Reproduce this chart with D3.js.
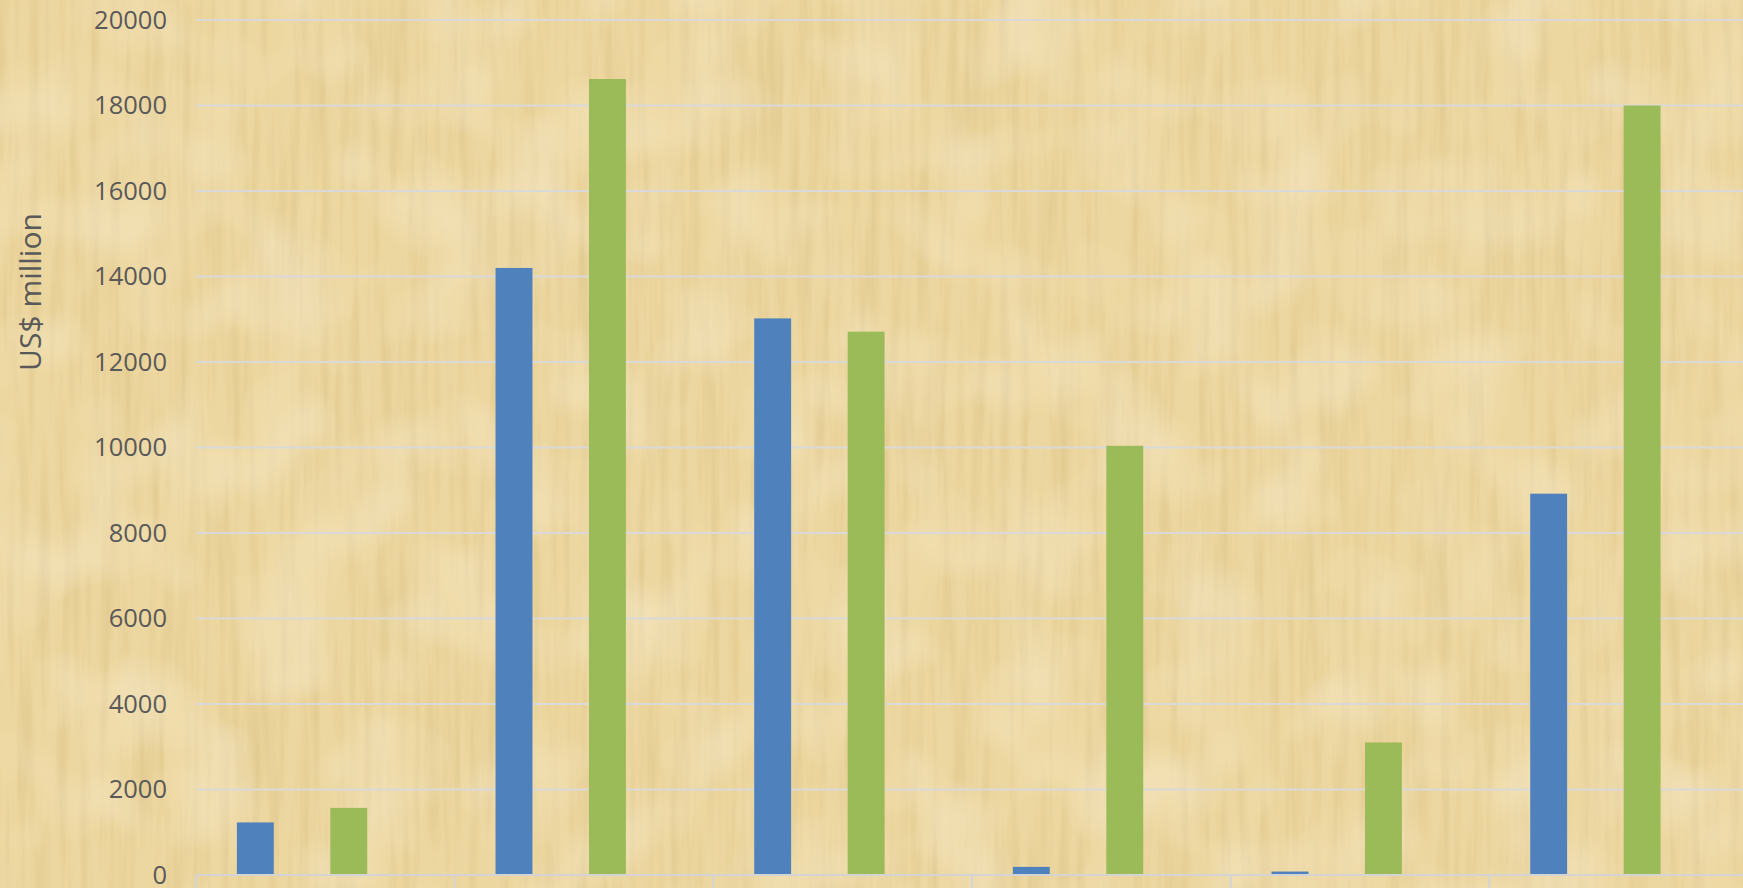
<!DOCTYPE html>
<html>
<head>
<meta charset="utf-8">
<script src="https://cdn.jsdelivr.net/npm/d3@7"></script>
<style>
    body { margin: 0; overflow: hidden; background: #ecd59d; }
    .tick text { font-family: "Open Sans", sans-serif; fill: #595959; }
</style>
</head>
<body>
<div id="chart"></div>
<script>
var categories = ["1", "2", "3", "4", "5", "6"];
var seriesNames = ["Series1", "Series2"];
var series1 = [1230, 14200, 13020, 190, 80, 8920];
var series2 = [1570, 18620, 12710, 10040, 3100, 18000];
var yTicks = [0, 2000, 4000, 6000, 8000, 10000, 12000, 14000, 16000, 18000, 20000];
var seriesColors = ["#4f81bd", "#9bbb59"];

function init() {
    var w = 1743;
    var h = 888;
    var left = 196;
    var right = 1748;
    var top = 20;
    var bottom = 875;

    var svg = d3.select("#chart")
                .append("svg")
                .attr("width", w)
                .attr("height", h);

    //papyrus looking background
    var defs = svg.append("defs");
    var f = defs.append("filter")
                .attr("id", "papyrus")
                .attr("x", 0).attr("y", 0)
                .attr("width", "100%").attr("height", "100%");
    f.append("feTurbulence")
        .attr("type", "fractalNoise")
        .attr("baseFrequency", "0.1 0.006")
        .attr("numOctaves", 3)
        .attr("seed", 4)
        .attr("result", "vert");
    f.append("feColorMatrix")
        .attr("in", "vert")
        .attr("type", "matrix")
        .attr("values", "0 0 0 0 0.66  0 0 0 0 0.5  0 0 0 0 0.2  0.9 0 0 0 -0.36")
        .attr("result", "vertDark");
    f.append("feTurbulence")
        .attr("type", "fractalNoise")
        .attr("baseFrequency", "0.012 0.012")
        .attr("numOctaves", 2)
        .attr("seed", 9)
        .attr("result", "blocks");
    f.append("feColorMatrix")
        .attr("in", "blocks")
        .attr("type", "matrix")
        .attr("values", "0 0 0 0 1  0 0 0 0 0.95  0 0 0 0 0.82  0.7 0 0 0 -0.3")
        .attr("result", "blockLight");
    f.append("feMerge")
        .selectAll("feMergeNode")
        .data(["vertDark", "blockLight"])
        .enter()
        .append("feMergeNode")
        .attr("in", function(d) { return d; });

    svg.append("rect")
        .attr("width", w)
        .attr("height", h)
        .attr("fill", "#edd7a0");
    svg.append("rect")
        .attr("width", w)
        .attr("height", h)
        .attr("fill", "#fff")
        .attr("filter", "url(#papyrus)");

    var xScale = d3.scaleBand()
                .domain(categories)
                .range([left, right])
                .padding(0);

    var bw = xScale.bandwidth();
    // bars sit left of centre inside each category, like the original
    var xInner = d3.scaleBand()
                .domain(seriesNames)
                .range([bw * 0.158, bw * 0.662])
                .paddingInner(0.605)
                .paddingOuter(0);

    var yScale = d3.scaleLinear()
                .domain([0, 20000])
                .range([bottom, top]);

    //grid lines
    svg.append("g")
        .selectAll("line")
        .data(yTicks.slice(1))
        .enter()
        .append("line")
        .attr("x1", left)
        .attr("x2", right)
        .attr("y1", function(d) { return yScale(d); })
        .attr("y2", function(d) { return yScale(d); })
        .attr("stroke", "#d9d9d9")
        .attr("stroke-width", 2);

    var rows = categories.map(function(c, i) {
        return { cat: c, values: [series1[i], series2[i]] };
    });

    var groups = svg.append("g")
                    .selectAll("g")
                    .data(rows)
                    .enter()
                    .append("g")
                    .attr("transform", function(d) { return "translate(" + xScale(d.cat) + ",0)"; });

    groups.selectAll("rect")
        .data(function(d) {
            return d.values.map(function(v, j) { return { key: seriesNames[j], value: v, color: seriesColors[j] }; });
        })
        .enter()
        .append("rect")
        .attr("x", function(d) { return xInner(d.key); })
        .attr("width", xInner.bandwidth())
        .attr("y", function(d) { return yScale(d.value); })
        .attr("height", function(d) { return bottom - yScale(d.value); })
        .attr("fill", function(d) { return d.color; });

    //category axis: line plus tick marks between categories
    svg.append("line")
        .attr("x1", left)
        .attr("x2", right)
        .attr("y1", bottom)
        .attr("y2", bottom)
        .attr("stroke", "#d4d4d4")
        .attr("stroke-width", 2);

    svg.append("g")
        .selectAll("line")
        .data(categories.concat(["end"]))
        .enter()
        .append("line")
        .attr("x1", function(d, i) { return i < categories.length ? xScale(d) : right; })
        .attr("x2", function(d, i) { return i < categories.length ? xScale(d) : right; })
        .attr("y1", bottom)
        .attr("y2", bottom + 15)
        .attr("stroke", "#d4d4d4")
        .attr("stroke-width", 2);

    var yAxis = d3.axisLeft()
                .scale(yScale)
                .tickValues(yTicks)
                .tickSize(0)
                .tickPadding(29)
                .tickFormat(d3.format("d"));

    var yg = svg.append("g")
        .attr("transform", "translate(" + left + ",0)")
        .call(yAxis);
    yg.select(".domain").remove();
    yg.selectAll("text").style("font-size", "25.5px");

    svg.append("text")
        .attr("transform", "translate(41," + 292 + ") rotate(-90)")
        .attr("text-anchor", "middle")
        .style("font-family", "'Open Sans', sans-serif")
        .style("font-size", "30px")
        .style("fill", "#595959")
        .text("US$ million");
}
window.onload = init;
</script>
</body>
</html>
